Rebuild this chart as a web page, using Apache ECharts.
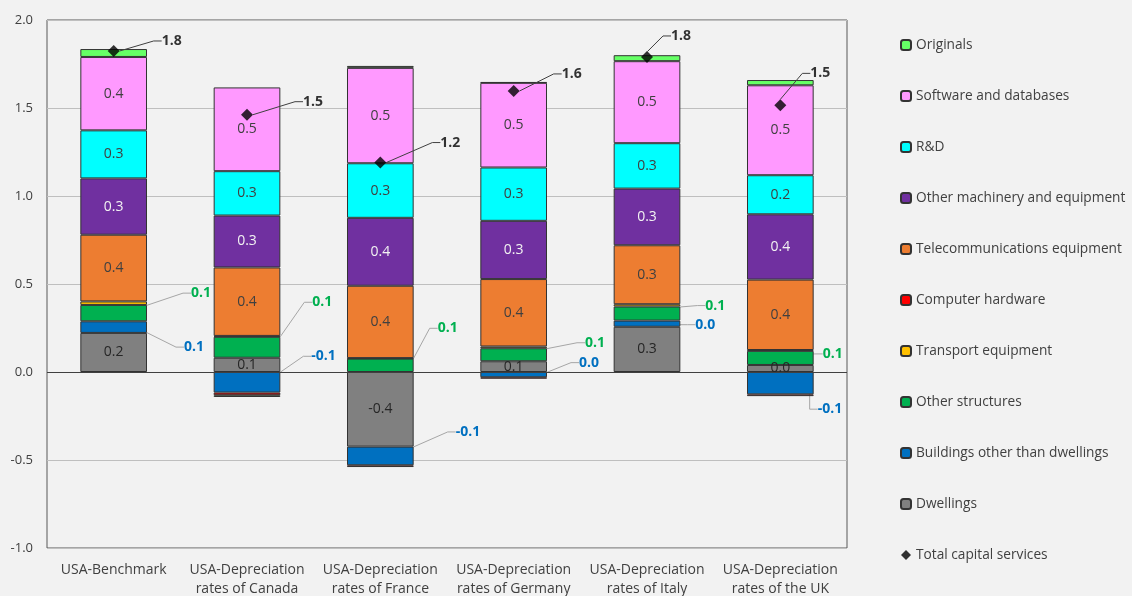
<!DOCTYPE html>
<html>
<head>
<meta charset="utf-8">
<script src="https://cdn.jsdelivr.net/npm/echarts@6/dist/echarts.min.js"></script>
<style>
html,body{margin:0;padding:0;background:#f2f2f2;}
#main{width:1132px;height:596px;}
</style>
</head>
<body>
<div id="main"></div>
<script>
// ---- Data ----
var categories = ['USA-Benchmark', 'USA-Depreciation\nrates of Canada', 'USA-Depreciation\nrates of France', 'USA-Depreciation\nrates of Germany', 'USA-Depreciation\nrates of Italy', 'USA-Depreciation\nrates of the UK'];
var dwellings        = [0.222, 0.081, -0.424, 0.061, 0.257, 0.040];
var buildings        = [0.066, -0.117, -0.106, -0.030, 0.035, -0.127];
var otherStructures  = [0.093, 0.119, 0.076, 0.074, 0.080, 0.080];
var transport        = [0.020, 0.005, 0.003, 0.010, 0.013, 0.005];
var computerHardware = [-0.005, -0.015, -0.010, -0.008, -0.005, -0.010];
var telecom          = [0.379, 0.389, 0.411, 0.383, 0.335, 0.400];
var otherMachinery   = [0.320, 0.295, 0.386, 0.331, 0.322, 0.371];
var rnd              = [0.273, 0.252, 0.310, 0.303, 0.258, 0.222];
var software         = [0.417, 0.476, 0.542, 0.481, 0.466, 0.511];
var originals        = [0.045, -0.010, 0.011, 0.004, 0.034, 0.030];
var totalServices    = [1.824, 1.462, 1.190, 1.597, 1.790, 1.515];
var yTicks = [-1.0, -0.5, 0.0, 0.5, 1.0, 1.5, 2.0];

// ---- Callout label offsets (layout only) ----
var greenOff = [[44,-20],[32,-45],[24,-37],[38,-12],[25,-8],[9,-4]];
var blueOff  = [[37,20],[31,-26],[42,-24],[32,-12],[15,1],[4,26]];
var totalOff = [[48,-10],[56,-13],[60,-20],[48,-17],[24,-21],[30,-32]];

function fmt(v){ return (Math.round(v*10)/10).toFixed(1); }
var FONT = "'Open Sans', 'DejaVu Sans', sans-serif";
var border = {borderColor:'#333333', borderWidth:1};

function bar(name, data, color, label, extra){
  var s = {
    name:name, type:'bar', stack:'total', data:data, barWidth:'50%',
    itemStyle:Object.assign({color:color}, border),
    label: label || {show:false},
    emphasis:{disabled:true}
  };
  if (extra) Object.assign(s, extra);
  return s;
}
function inside(color){
  return {show:true, position:'inside', color:color, fontFamily:FONT, fontSize:14,
    formatter:function(p){return fmt(p.value);}};
}
function callout(off){
  return function(p){
    var r = p.rect;
    var right = Math.max(r.x, r.x + r.width);
    var cy = r.y + r.height/2;
    var o = off[p.dataIndex];
    return {x:right + o[0], y:cy + o[1], align:'left', verticalAlign:'middle'};
  };
}
function outLabel(color){
  return {show:true, position:'inside', color:color, fontFamily:FONT, fontSize:14, fontWeight:'bold',
    formatter:function(p){return fmt(p.value);}};
}

var chart = echarts.init(document.getElementById('main'), null, {renderer:'canvas'});
var series = [
  bar('Dwellings', dwellings, '#808080', inside('#262626')),
  bar('Buildings other than dwellings', buildings, '#0070c0', outLabel('#0070c0'), {
    labelLayout: callout(blueOff), labelLine:{show:true, length2:8, lineStyle:{color:'#a6a6a6', width:1}}
  }),
  bar('Other structures', otherStructures, '#00b050', outLabel('#00b050'), {
    labelLayout: callout(greenOff), labelLine:{show:true, length2:8, lineStyle:{color:'#a6a6a6', width:1}}
  }),
  bar('Transport equipment', transport, '#ffc000'),
  bar('Computer hardware', computerHardware, '#ff0000'),
  bar('Telecommunications equipment', telecom, '#ed7d31', inside('#404040')),
  bar('Other machinery and equipment', otherMachinery, '#7030a0', inside('#f2f2f2')),
  bar('R&D', rnd, '#00ffff', inside('#404040')),
  bar('Software and databases', software, '#ff99ff', inside('#404040')),
  bar('Originals', originals, '#66ff66'),
  {
    name:'Total capital services', type:'scatter', data:totalServices, symbol:'diamond', symbolSize:12,
    itemStyle:{color:'#000000'}, z:5,
    emphasis:{disabled:true},
    label:{show:true, position:'inside', color:'#000000', fontFamily:FONT, fontSize:14, fontWeight:'bold',
      formatter:function(p){return fmt(p.value);}},
    labelLayout: function(p){
      var r = p.rect; var o = totalOff[p.dataIndex];
      return {x:r.x + r.width/2 + o[0], y:r.y + r.height/2 + o[1], align:'left', verticalAlign:'middle'};
    },
    labelLine:{show:true, length2:8, lineStyle:{color:'#404040', width:1}},
    markLine:{silent:true, symbol:['none','none'], label:{show:false}, animation:false,
      lineStyle:{color:'#404040', width:1, type:'solid'}, data:[{yAxis:0}]}
  }
];

chart.setOption({
  backgroundColor:'#f2f2f2',
  animation:false,
  textStyle:{fontFamily:FONT},
  grid:{left:47, right:285, top:20, bottom:48, outerBoundsMode:'none', containLabel:false,
    show:true, borderColor:'#595959', borderWidth:1, backgroundColor:'#f2f2f2'},
  legend:{
    orient:'vertical', left:895, top:33, itemWidth:10, itemHeight:10, itemGap:37,
    textStyle:{fontFamily:FONT, fontSize:13.7, color:'#404040', lineHeight:14},
    data:['Originals','Software and databases','R&D','Other machinery and equipment','Telecommunications equipment','Computer hardware','Transport equipment','Other structures','Buildings other than dwellings','Dwellings','Total capital services']
  },
  xAxis:{
    type:'category', data:categories,
    axisLine:{show:false, onZero:false}, axisTick:{show:false},
    axisLabel:{color:'#404040', fontFamily:FONT, fontSize:14, lineHeight:19, margin:13, interval:0}
  },
  yAxis:{
    type:'value', min:yTicks[0], max:yTicks[yTicks.length-1], interval:0.5,
    axisLine:{show:false}, axisTick:{show:false},
    axisLabel:{color:'#404040', fontFamily:FONT, fontSize:13, margin:14, formatter:function(v){return v.toFixed(1);}},
    splitLine:{lineStyle:{color:'#bfbfbf', width:1}}
  },
  series:series
});
</script>
</body>
</html>
